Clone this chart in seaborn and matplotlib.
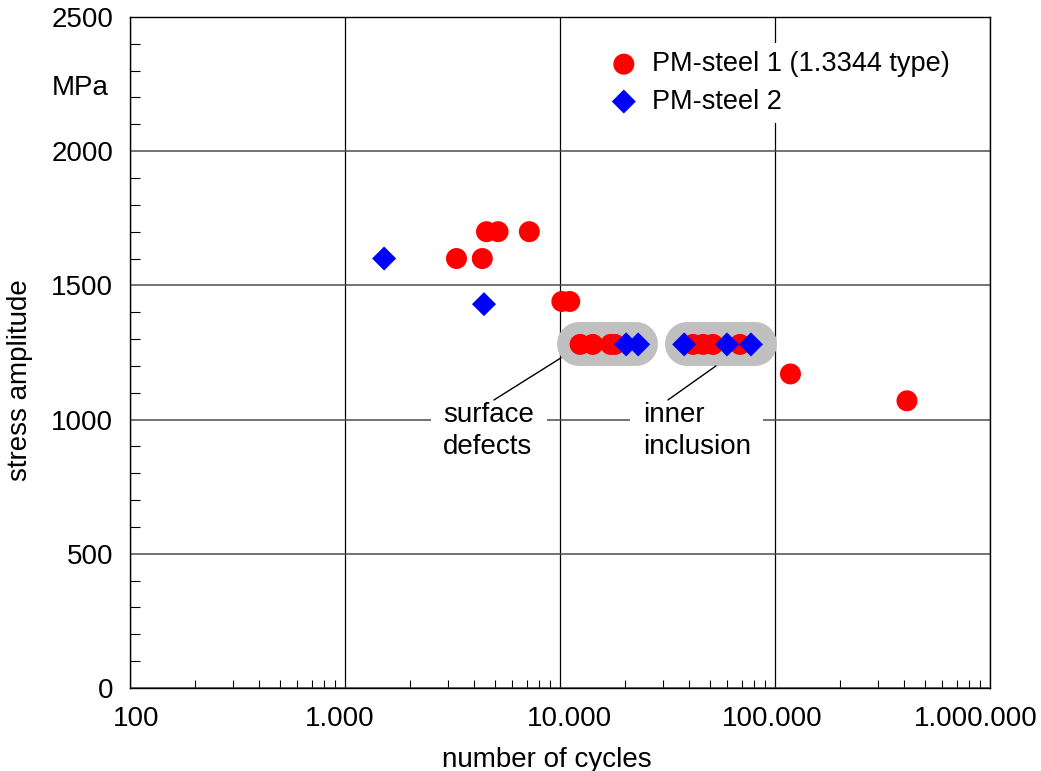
import numpy as np
import matplotlib
matplotlib.use("Agg")
import matplotlib.pyplot as plt
import matplotlib.transforms as mtransforms
import seaborn as sns
from matplotlib.ticker import FixedLocator, FuncFormatter, LogLocator, NullFormatter, MultipleLocator

# data
steel1_cycles = [3300, 4350, 4550, 5150, 7200, 10200, 11100, 12400, 14200, 17200, 18000,
                 41600, 46300, 51500, 68700, 118000, 411000]
steel1_stress = [1600, 1600, 1700, 1700, 1700, 1440, 1440, 1280, 1280, 1280, 1280,
                 1280, 1280, 1280, 1280, 1170, 1070]
steel2_cycles = [1520, 4430, 20300, 23100, 37800, 59800, 77300]
steel2_stress = [1600, 1430, 1280, 1280, 1280, 1280, 1280]

# failure-origin groups (cycle range, stress level)
groups = ["surface\ndefects", "inner\ninclusion"]
group_ranges = [(12300, 22600), (38900, 80900)]
group_stress = [1280, 1280]

x_ticks = [100, 1000, 10000, 100000, 1000000]
y_ticks = [0, 500, 1000, 1500, 2000, 2500]

sns.set_theme(style="white")
plt.rcParams['font.family'] = ['Liberation Sans', 'DejaVu Sans']
plt.rcParams['text.color'] = 'black'
plt.rcParams['axes.labelcolor'] = 'black'
FS = 20

fig = plt.figure(figsize=(10.41, 7.71), dpi=100)
ax = fig.add_axes([0.1249, 0.1077, 0.8261, 0.8703])
ax.set_xscale('log')
ax.set_xlim(100, 1e6)
ax.set_ylim(0, 2500)

# grey capsules behind the clustered points
for (x0, x1), ys in zip(group_ranges, group_stress):
    ax.plot([x0, x1], [ys, ys], color='#c0c0c0', lw=31.7, solid_capstyle='round', zorder=2)

sns.scatterplot(x=steel1_cycles, y=steel1_stress, color='red', marker='o', s=228,
                edgecolor='none', linewidth=0, ax=ax, zorder=4, label='PM-steel 1 (1.3344 type)')
sns.scatterplot(x=steel2_cycles, y=steel2_stress, color='blue', marker='D', s=150,
                edgecolor='none', linewidth=0, ax=ax, zorder=5, label='PM-steel 2')

# annotations
ann_text_pos = [(2860, 958), (24300, 958)]
ann_line = [((10110, 1230), (4930, 1073)), ((53160, 1200), (31770, 1073))]
for txt, pos, (p0, p1) in zip(groups, ann_text_pos, ann_line):
    ax.text(pos[0], pos[1], txt, fontsize=FS, ha='left', va='center', linespacing=1.3,
            bbox=dict(boxstyle='square,pad=0.45', fc='white', ec='none'), zorder=3)
    ax.plot([p0[0], p1[0]], [p0[1], p1[1]], color='black', lw=1, zorder=3.5)

# axes styling
ax.xaxis.set_major_locator(FixedLocator(x_ticks))
ax.xaxis.set_minor_locator(LogLocator(base=10, subs=np.arange(2, 10)))
ax.xaxis.set_minor_formatter(NullFormatter())
ax.xaxis.set_major_formatter(FuncFormatter(lambda v, p: f"{int(round(v)):,}".replace(',', '.')))
ax.yaxis.set_major_locator(FixedLocator(y_ticks))
ax.yaxis.set_minor_locator(MultipleLocator(100))

ax.tick_params(axis='both', which='both', direction='in', top=False, right=False,
               labelsize=FS, colors='black', labelcolor='black')
ax.tick_params(axis='x', which='major', length=0, pad=13)
ax.tick_params(axis='y', which='major', length=0, pad=12)
ax.tick_params(axis='x', which='minor', length=6, width=0.8, bottom=True)
ax.tick_params(axis='y', which='minor', length=7, width=0.8, left=True)

ax.grid(False)
ax.grid(True, axis='x', which='major', color='black', lw=0.9, zorder=1)
ax.grid(True, axis='y', which='major', color='#4d4d4d', lw=1.1, zorder=1)
ax.set_axisbelow(True)
for s in ax.spines.values():
    s.set_color('black')
    s.set_linewidth(1.0)

ax.set_xlabel('number of cycles', fontsize=FS, color='black')
ax.set_ylabel('stress amplitude', fontsize=FS, color='black')
ax.xaxis.set_label_coords(0.485, -0.088)
ax.yaxis.set_label_coords(-0.113, 0.459)
ax.text(-0.058, 0.894, 'MPa', transform=ax.transAxes, fontsize=FS, ha='center', va='center')

# x labels in the original sit slightly off their gridlines
fig.canvas.draw()
label_shift_px = [6, -5, 9, -3, -14]
for lab, dx in zip(ax.get_xticklabels(), label_shift_px):
    lab.set_transform(lab.get_transform() + mtransforms.ScaledTranslation(dx / 100, 0, fig.dpi_scale_trans))

leg = ax.legend(loc='upper left', bbox_to_anchor=(0.549, 0.961), borderaxespad=0,
                fontsize=19.5, handlelength=1.0, handletextpad=0.55, labelspacing=0.42,
                borderpad=0.3, frameon=True, fancybox=False, framealpha=1,
                facecolor='white', edgecolor='none')
leg.set_zorder(6)
for t in leg.get_texts():
    t.set_color('black')

fig.savefig('out.png', dpi=100)
